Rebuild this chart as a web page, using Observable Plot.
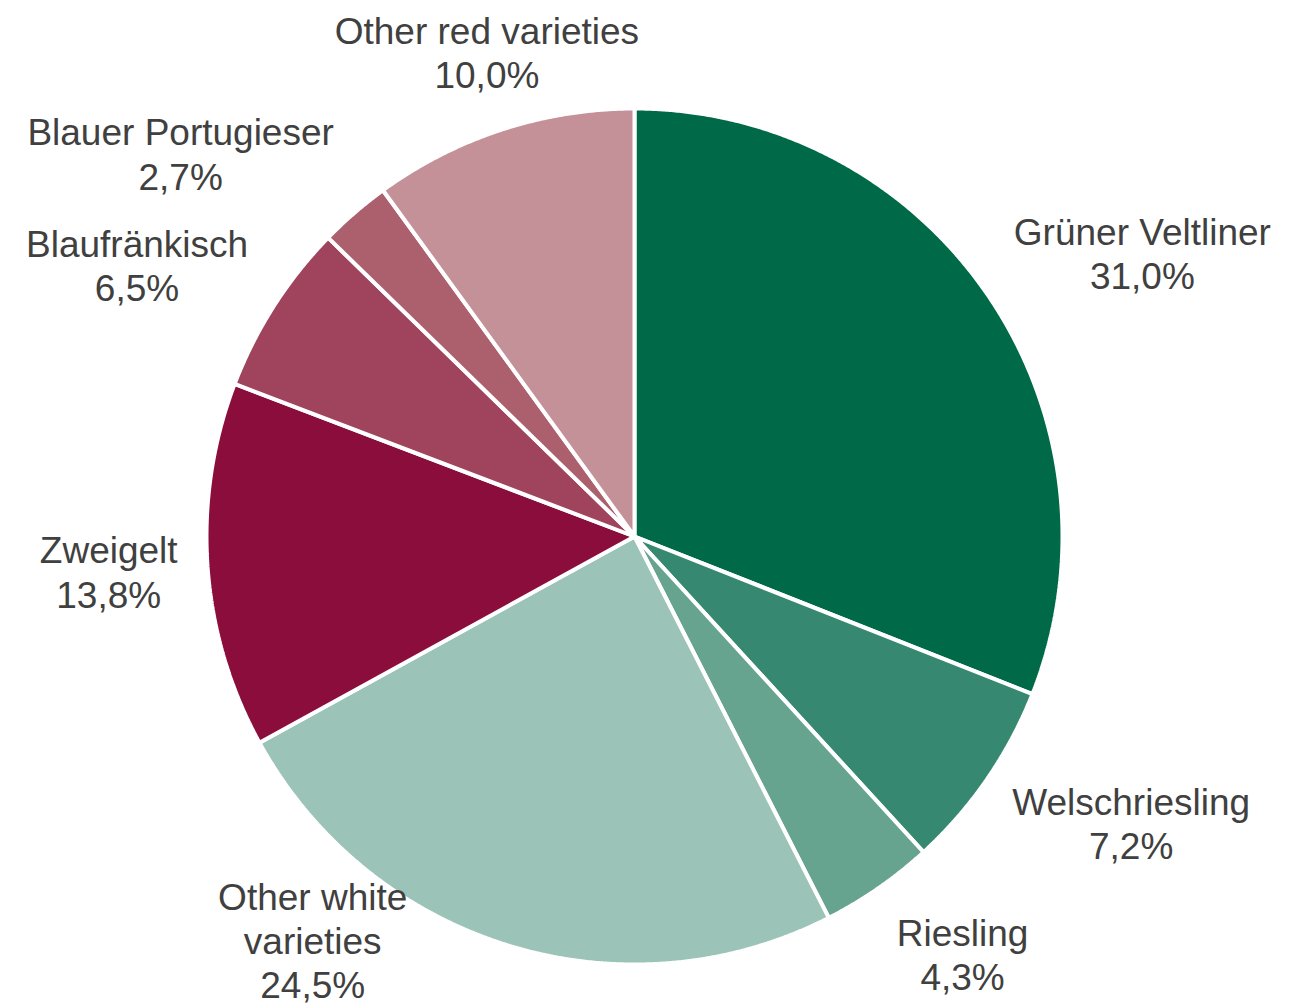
<!DOCTYPE html>
<html><head><meta charset="utf-8">
<script src="https://cdn.jsdelivr.net/npm/d3@7"></script>
<script src="https://cdn.jsdelivr.net/npm/@observablehq/plot@0.6"></script>
<style>html,body{margin:0;padding:0;background:#fff}svg{display:block}</style>
</head><body><div id="chart"></div>
<script>
// ---- data ----
const categories = ["Grüner Veltliner","Welschriesling","Riesling","Other white varieties","Zweigelt","Blaufränkisch","Blauer Portugieser","Other red varieties"];
const shares = [31.0, 7.2, 4.3, 24.5, 13.8, 6.5, 2.7, 10.0];
const labelNames = ["Grüner Veltliner","Welschriesling","Riesling","Other white\nvarieties","Zweigelt","Blaufränkisch","Blauer Portugieser","Other red varieties"];
const colors = ["#006a48","#378871","#67a490","#9bc3b7","#8a0d3b","#a0445e","#ac5f6d","#c59199"];

// ---- layout ----
const W = 1292, H = 1006;
const cx = 634, cy = 536, R = 428;
const fontSize = 37, lineH = 1.2;
const fontFamily = '"Liberation Sans", Arial, Helvetica, sans-serif';

const rows = categories.map((c, i) => ({cat: c, share: shares[i], label: labelNames[i]}));
const arcs = d3.pie().sort(null).value(d => d.share)(rows);

// slice outlines (data units, unit radius)
const pts = [];
arcs.forEach(a => {
  const c = a.data.cat;
  pts.push({cat: c, x: 0, y: 0});
  const n = Math.max(2, Math.ceil((a.endAngle - a.startAngle) / (Math.PI / 720)));
  for (let k = 0; k <= n; k++) {
    const t = a.startAngle + (a.endAngle - a.startAngle) * k / n;
    pts.push({cat: c, x: Math.sin(t), y: Math.cos(t)});
  }
  pts.push({cat: c, x: 0, y: 0});
});

// label placement (Excel-like outside end / best fit)
const ctx = document.createElement("canvas").getContext("2d");
ctx.font = `${fontSize}px ${fontFamily}`;
const r0 = R + 27;
const fx = s => Math.sign(s) * Math.max(0, Math.min(1, (Math.abs(s) - 0.3) / 0.2));
const fy = s => s * (1.05 + 0.2 * s * s);
const labels = arcs.map(a => {
  const text = `${a.data.label}\n${a.data.share.toFixed(1).replace(".", ",")}%`;
  const lines = text.split("\n");
  const w = d3.max(lines, l => ctx.measureText(l).width) + 6;
  const h = lines.length * fontSize * lineH;
  const th = (a.startAngle + a.endAngle) / 2;
  const sx = Math.sin(th), sy = -Math.cos(th);
  let x = r0 * sx + fx(sx) * w / 2;
  let y = r0 * sy + fy(sy) * h / 2;
  let moved = false;
  const bottom = H - cy, top = -cy;
  if (y + h / 2 > bottom) { y = bottom - h / 2; moved = true; }
  if (y - h / 2 < top) { y = top + h / 2; moved = true; }
  if (moved) {
    const dist = () => {
      const dx = Math.max(x - w / 2, 0, -(x + w / 2));
      const dy = Math.max(y - h / 2, 0, -(y + h / 2));
      return Math.hypot(dx, dy);
    };
    const dir = Math.sign(sx) || 1;
    let guard = 0;
    while (dist() < 0.945 * R && guard++ < 1000) x += dir;
  }
  return {text, x: x / R, y: -y / R};
});

const chart = Plot.plot({
  width: W,
  height: H,
  marginLeft: cx - R,
  marginRight: W - cx - R,
  marginTop: cy - R,
  marginBottom: H - cy - R,
  x: {domain: [-1, 1], axis: null},
  y: {domain: [-1, 1], axis: null},
  color: {domain: categories, range: colors},
  style: {fontFamily, background: "#fff"},
  marks: [
    Plot.line(pts, {x: "x", y: "y", z: "cat", fill: "cat", stroke: "white", strokeWidth: 4, strokeLinejoin: "miter", curve: "linear"}),
    Plot.text(labels, {x: "x", y: "y", text: "text", fontSize, lineHeight: lineH, fill: "#404040", textAnchor: "middle", lineAnchor: "middle", fontFamily})
  ]
});
document.getElementById("chart").appendChild(chart);
</script>
</body></html>
